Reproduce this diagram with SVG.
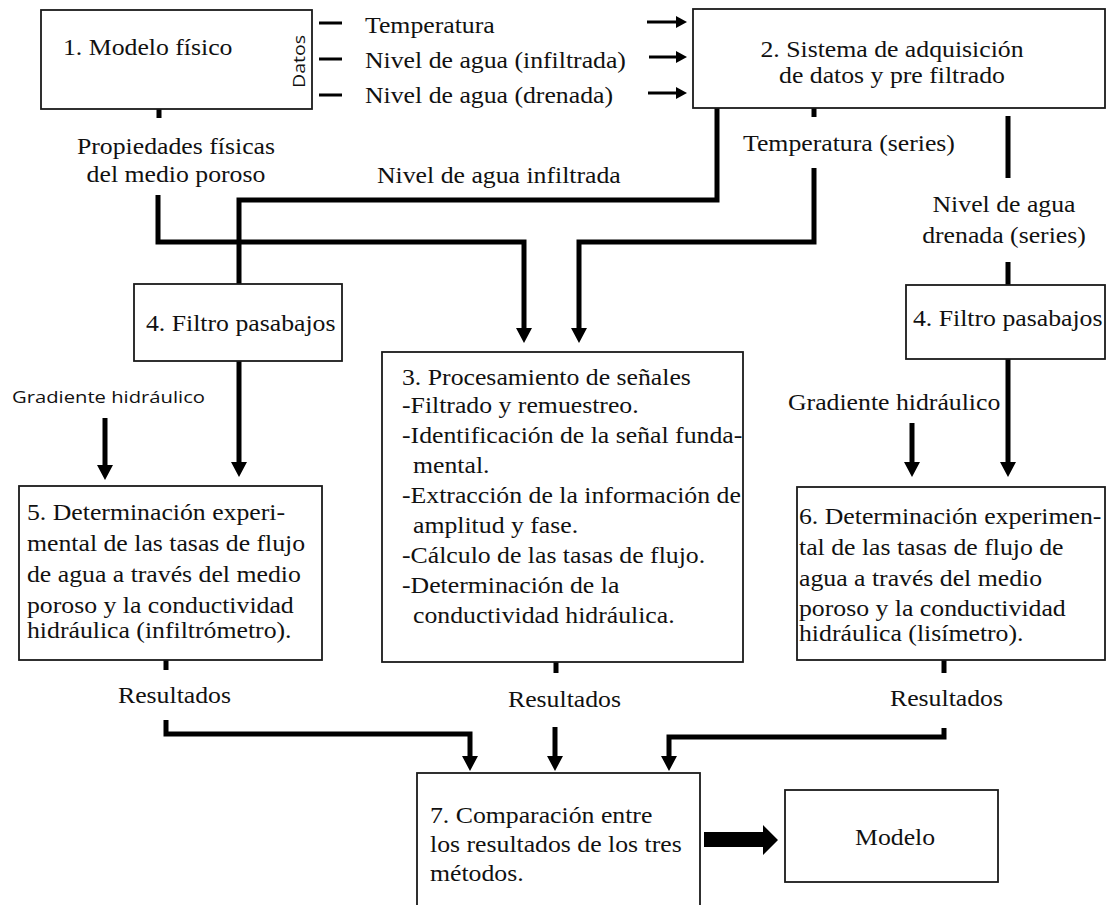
<svg xmlns="http://www.w3.org/2000/svg" width="1107" height="905" viewBox="0 0 1107 905">
<style>
.box{fill:#fff;stroke:#1a1a1a;stroke-width:1.8}
.t{font-family:"Liberation Serif","Times New Roman",serif;font-size:22.5px;fill:#111}
.s{font-family:"Open Sans","Noto Sans",sans-serif;fill:#111}
.c{fill:none;stroke:#000;stroke-width:5}
.thin{fill:none;stroke:#000;stroke-width:3}
</style>
<defs>
<marker id="ah" markerUnits="userSpaceOnUse" viewBox="0 0 15 16" markerWidth="15" markerHeight="16" refX="2" refY="8" orient="auto"><path d="M0,0 L15,8 L0,16 z" fill="#000"/></marker>
<marker id="as" markerUnits="userSpaceOnUse" viewBox="0 0 11 12" markerWidth="11" markerHeight="12" refX="1" refY="6" orient="auto"><path d="M0,0 L11,6 L0,12 z" fill="#000"/></marker>
</defs>
<rect width="1107" height="905" fill="#fff"/>

<g id="connectors">
  <path class="thin" d="M319,23 H342 M319,59 H342 M319,95 H342"/>
  <path class="thin" d="M647,22 H677" marker-end="url(#as)"/>
  <path class="thin" d="M649,57 H677" marker-end="url(#as)"/>
  <path class="thin" d="M648,93 H677" marker-end="url(#as)"/>
  <path class="c" d="M159,109 V118"/>
  <path class="c" d="M158,195 V242 H524 V330" marker-end="url(#ah)"/>
  <path class="c" d="M717,108 V200 H239 V284"/>
  <path class="c" stroke-width="4" d="M814,108 V117"/>
  <path class="c" d="M814,168 V242 H579 V330" marker-end="url(#ah)"/>
  <path class="c" d="M1008,116 V178 M1008,262 V285"/>
  <path class="c" d="M239,361 V464" marker-end="url(#ah)"/>
  <path class="c" d="M105,418 V467" marker-end="url(#ah)"/>
  <path class="c" d="M1008,359 V464" marker-end="url(#ah)"/>
  <path class="c" d="M912,423 V464" marker-end="url(#ah)"/>
  <path class="c" d="M166,660 V670 M556,662 V673 M944,660 V673"/>
  <path class="c" d="M166,720 V734 H470 V758" marker-end="url(#ah)"/>
  <path class="c" d="M555,727 V758" marker-end="url(#ah)"/>
  <path class="c" d="M944,728 V737 H669 V758" marker-end="url(#ah)"/>
  <polygon points="704,832 763,832 763,825 778,840 763,855 763,847 704,847" fill="#000"/>
</g>

<g id="edge-labels">
  <text class="t" transform="translate(365,33) scale(1.145,1)">Temperatura</text>
  <text class="t" transform="translate(365,68) scale(1.145,1)">Nivel de agua (infiltrada)</text>
  <text class="t" transform="translate(365,103) scale(1.145,1)">Nivel de agua (drenada)</text>
  <text class="t" text-anchor="middle" transform="translate(176,154) scale(1.145,1)"><tspan x="0">Propiedades físicas</tspan><tspan x="0" dy="28">del medio poroso</tspan></text>
  <text class="t" transform="translate(377,183) scale(1.145,1)">Nivel de agua infiltrada</text>
  <text class="t" transform="translate(743,151) scale(1.145,1)">Temperatura (series)</text>
  <text class="t" text-anchor="middle" transform="translate(1004,212) scale(1.145,1)"><tspan x="0">Nivel de agua</tspan><tspan x="0" dy="31">drenada (series)</tspan></text>
  <text class="s" x="12" y="403" font-size="17" textLength="193" lengthAdjust="spacingAndGlyphs">Gradiente hidráulico</text>
  <text class="t" transform="translate(788,410) scale(1.145,1)">Gradiente hidráulico</text>
  <text class="t" transform="translate(118,703) scale(1.145,1)">Resultados</text>
  <text class="t" transform="translate(508,707) scale(1.145,1)">Resultados</text>
  <text class="t" transform="translate(890,706) scale(1.145,1)">Resultados</text>
</g>

<g id="node1">
  <rect class="box" x="41" y="10" width="271" height="99"/>
  <text class="t" transform="translate(63,55) scale(1.145,1)">1. Modelo físico</text>
  <text class="s" font-size="17" textLength="53" lengthAdjust="spacingAndGlyphs" transform="translate(305,88) rotate(-90)">Datos</text>
</g>

<g id="node2">
  <rect class="box" x="693" y="9" width="412" height="99"/>
  <text class="t" text-anchor="middle" transform="translate(892,57) scale(1.145,1)"><tspan x="0">2. Sistema de adquisición</tspan><tspan x="0" dy="26">de datos y pre filtrado</tspan></text>
</g>

<g id="node3">
  <rect class="box" x="382" y="352" width="361" height="310"/>
  <text class="t" transform="translate(402,385) scale(1.145,1)">
    <tspan x="0" y="0">3. Procesamiento de señales</tspan>
    <tspan x="0" y="28">-Filtrado y remuestreo.</tspan>
    <tspan x="0" y="58">-Identificación de la señal funda-</tspan>
    <tspan x="9.6" y="88">mental.</tspan>
    <tspan x="0" y="118">-Extracción de la información de</tspan>
    <tspan x="9.6" y="148">amplitud y fase.</tspan>
    <tspan x="0" y="178">-Cálculo de las tasas de flujo.</tspan>
    <tspan x="0" y="208">-Determinación de la</tspan>
    <tspan x="9.6" y="238">conductividad hidráulica.</tspan>
  </text>
</g>

<g id="node4a">
  <rect class="box" x="134" y="284" width="208" height="77"/>
  <text class="t" transform="translate(146,331) scale(1.145,1)">4. Filtro pasabajos</text>
</g>

<g id="node4b">
  <rect class="box" x="906" y="285" width="199" height="74"/>
  <text class="t" transform="translate(913,326) scale(1.145,1)">4. Filtro pasabajos</text>
</g>

<g id="node5">
  <rect class="box" x="19" y="486" width="303" height="174"/>
  <text class="t" transform="translate(27,520) scale(1.145,1)">
    <tspan x="0" y="0">5. Determinación experi-</tspan>
    <tspan x="0" y="31">mental de las tasas de flujo</tspan>
    <tspan x="0" y="62">de agua a través del medio</tspan>
    <tspan x="0" y="93">poroso y la conductividad</tspan>
    <tspan x="0" y="118">hidráulica (infiltrómetro).</tspan>
  </text>
</g>

<g id="node6">
  <rect class="box" x="797" y="487" width="308" height="173"/>
  <text class="t" transform="translate(799,524) scale(1.145,1)">
    <tspan x="0" y="0">6. Determinación experimen-</tspan>
    <tspan x="0" y="31">tal de las tasas de flujo de</tspan>
    <tspan x="0" y="62">agua a través del medio</tspan>
    <tspan x="0" y="92">poroso y la conductividad</tspan>
    <tspan x="0" y="117">hidráulica (lisímetro).</tspan>
  </text>
</g>

<g id="node7">
  <rect class="box" x="417" y="773" width="283" height="140"/>
  <text class="t" transform="translate(430,823) scale(1.145,1)">
    <tspan x="0" y="0">7. Comparación entre</tspan>
    <tspan x="0" y="29">los resultados de los tres</tspan>
    <tspan x="0" y="58">métodos.</tspan>
  </text>
</g>

<g id="node8">
  <rect class="box" x="785" y="790" width="213" height="92"/>
  <text class="t" transform="translate(855,845) scale(1.145,1)">Modelo</text>
</g>
</svg>
